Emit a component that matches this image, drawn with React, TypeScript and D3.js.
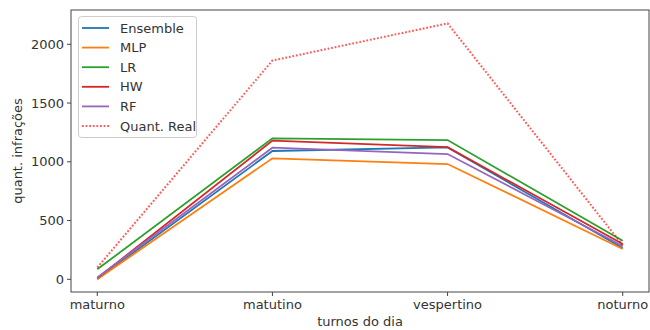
import React from "react";
import * as d3 from "d3";

const categories = ["maturno", "matutino", "vespertino", "noturno"];
const ensemble = [2, 1092, 1122, 266];
const mlp = [0, 1030, 981, 258];
const lr = [85, 1200, 1185, 328];
const hw = [10, 1180, 1125, 300];
const rf = [15, 1120, 1066, 283];
const real = [100, 1862, 2178, 290];
const seriesNames = ["Ensemble", "MLP", "LR", "HW", "RF", "Quant. Real"];
const seriesColors = ["#1f77b4", "#ff7f0e", "#2ca02c", "#d62728", "#9467bd", "#ff0000"];
const yTicks = [0, 500, 1000, 1500, 2000];

export default function App() {
  const W = 650, H = 330;
  const left = 71, right = 649, top = 10, bottom = 292;
  const span = right - left;
  const pad = span * 0.05 / 1.1;
  const xs = d3.scalePoint<string>().domain(categories).range([left + pad, right - pad]);
  const y = d3.scaleLinear().domain([-108, 2292]).range([bottom, top]);
  const all = [ensemble, mlp, lr, hw, rf, real];
  const line = d3.line<number>().x((_, i) => xs(categories[i])!).y((d) => y(d));
  const font = "DejaVu Sans, sans-serif";
  return (
    <svg width={W} height={H} style={{ position: "absolute", left: 0, top: 0 }} fontFamily={font}>
      <rect x={0} y={0} width={W} height={H} fill="#fff" />
      {all.map((s, i) => (
        <path
          key={i}
          d={line(s)!}
          fill="none"
          stroke={seriesColors[i]}
          strokeWidth={i === 5 ? 2 : 1.8}
          strokeOpacity={i === 5 ? 0.65 : 1}
          strokeDasharray={i === 5 ? "1.8,1.8" : undefined}
        />
      ))}
      <rect x={left} y={top} width={right - left} height={bottom - top} fill="none" stroke="#444" strokeWidth={1} />
      {yTicks.map((t) => (
        <g key={t}>
          <line x1={left - 4} x2={left} y1={y(t)} y2={y(t)} stroke="#444" />
          <text x={left - 7} y={y(t)} dy="0.35em" textAnchor="end" fontSize={13} fill="#333">{t}</text>
        </g>
      ))}
      {categories.map((c) => (
        <g key={c}>
          <line x1={xs(c)} x2={xs(c)} y1={bottom} y2={bottom + 4} stroke="#444" />
          <text x={xs(c)} y={bottom + 17} textAnchor="middle" fontSize={13} fill="#333">{c}</text>
        </g>
      ))}
      <text x={(left + right) / 2} y={326} textAnchor="middle" fontSize={13} fill="#333">turnos do dia</text>
      <text transform={`translate(22,${(top + bottom) / 2}) rotate(-90)`} textAnchor="middle" fontSize={13} fill="#333">quant. infrações</text>
      <g>
        <rect x={78.5} y={16.5} width={118} height={121} rx={3} fill="#fff" fillOpacity={0.8} stroke="#ccc" />
        {seriesNames.map((n, i) => {
          const yy = 28 + i * 19.6;
          return (
            <g key={n}>
              <line x1={82} x2={109} y1={yy} y2={yy} stroke={seriesColors[i]} strokeWidth={i === 5 ? 2 : 1.8}
                strokeOpacity={i === 5 ? 0.65 : 1}
                strokeDasharray={i === 5 ? "1.8,1.8" : undefined} />
              <text x={120} y={yy} dy="0.35em" fontSize={13} fill="#333">{n}</text>
            </g>
          );
        })}
      </g>
    </svg>
  );
}
